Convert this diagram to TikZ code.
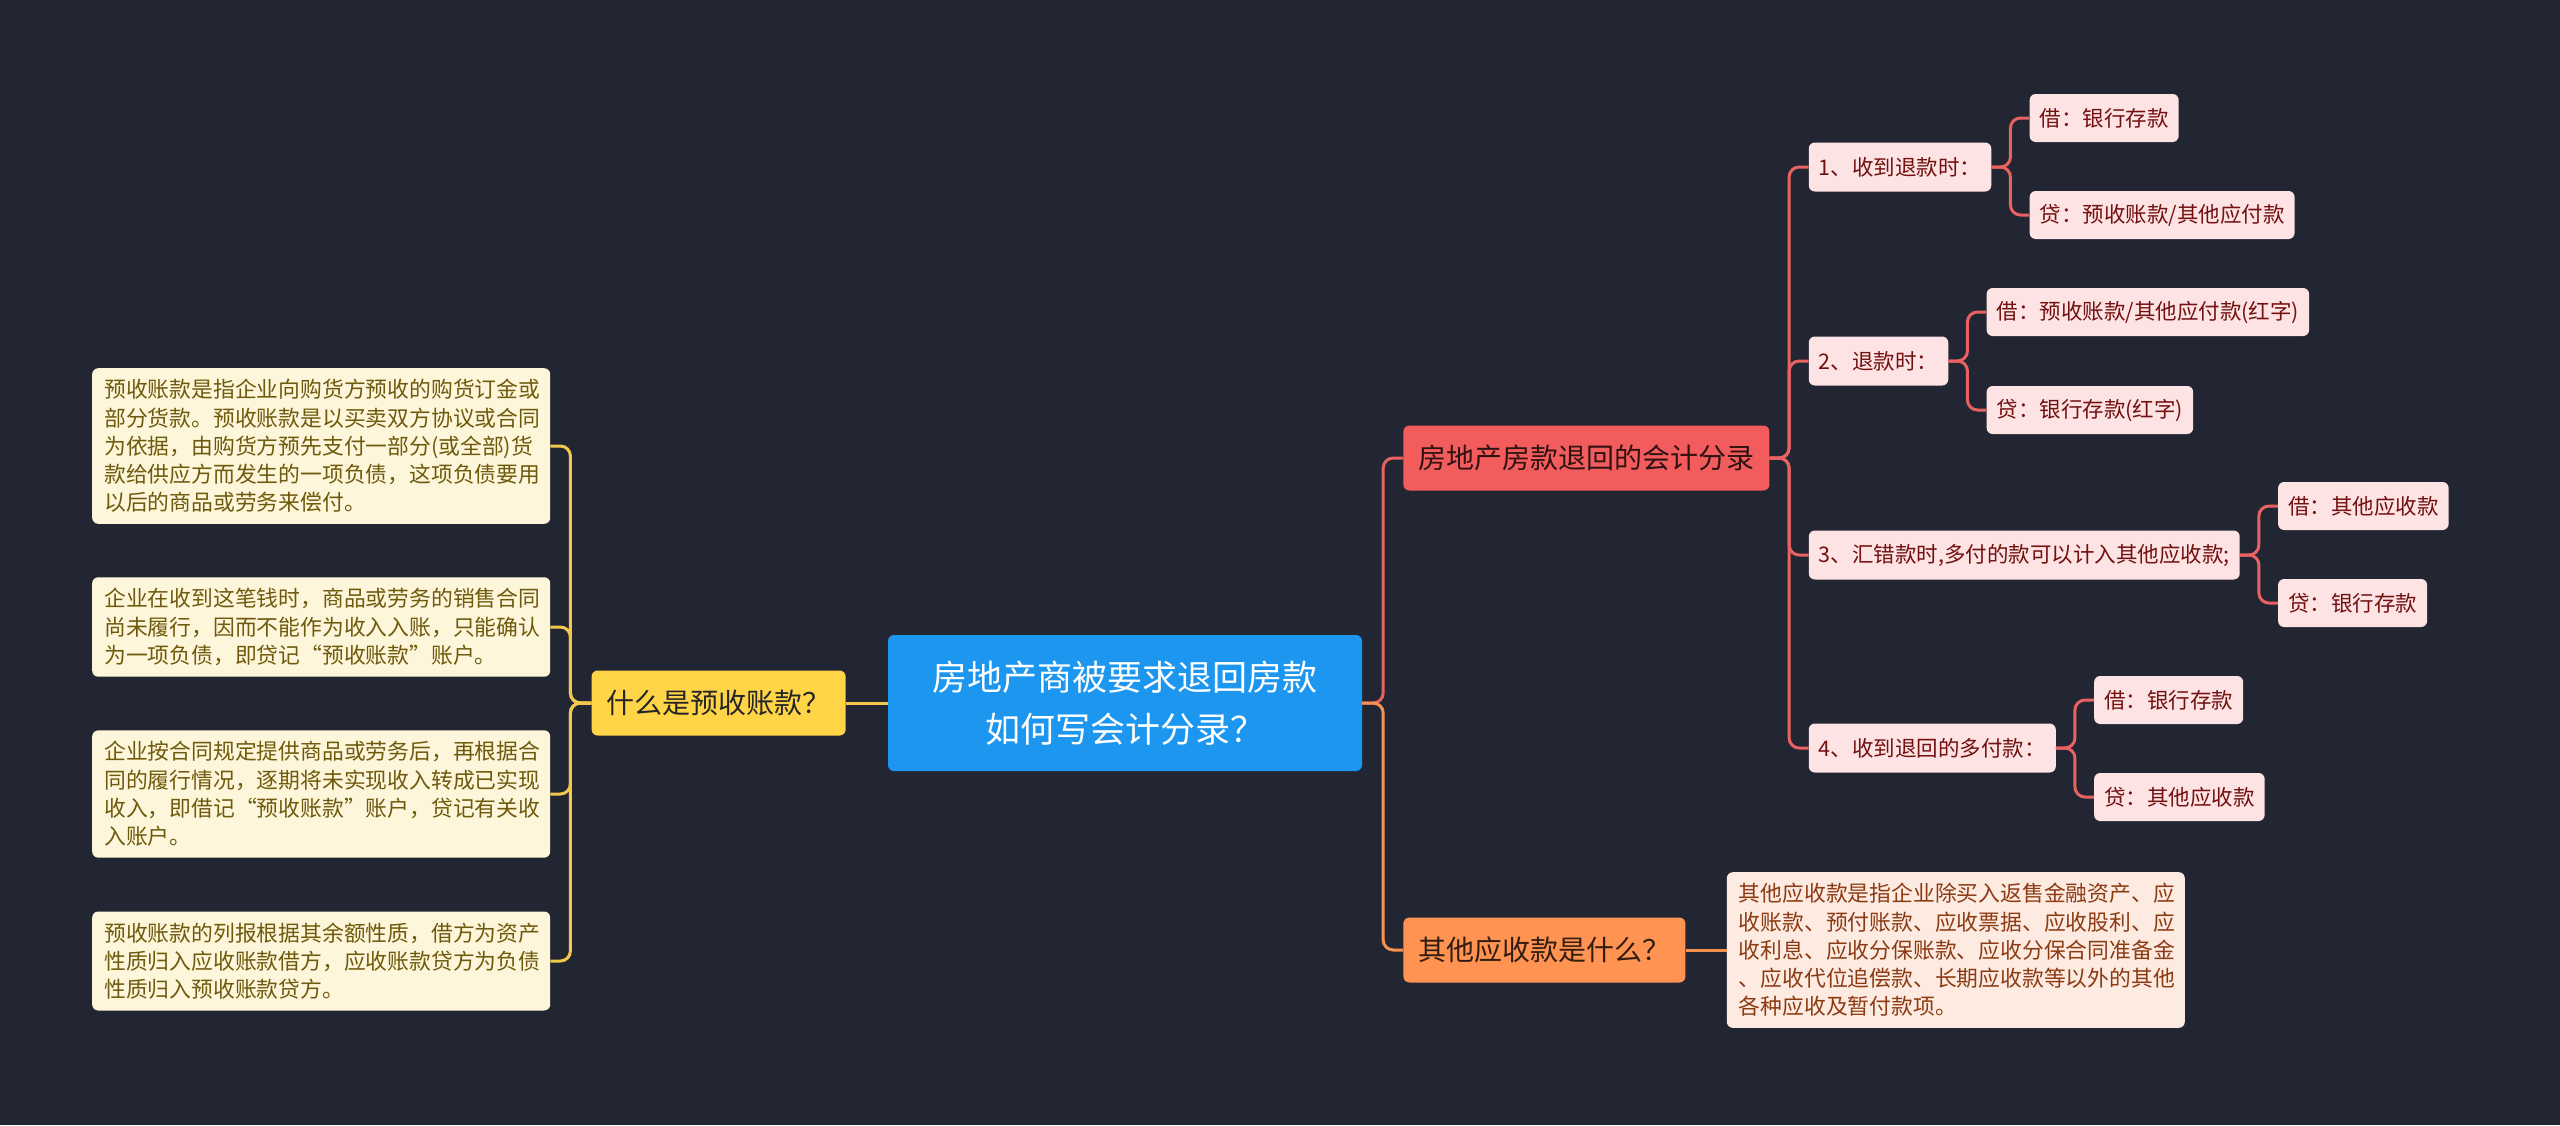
\documentclass[tikz,border=0pt]{standalone}
\usepackage{fontspec}
\setmainfont{Noto Sans CJK SC}
\usepackage{xcolor}
\usepackage{tikz}
\usetikzlibrary{positioning}

\definecolor{beijing}{HTML}{222633}
\definecolor{lan}{HTML}{1C96EF}
\definecolor{huang}{HTML}{FFD447}
\definecolor{hong}{HTML}{F25C5C}
\definecolor{cheng}{HTML}{FE9352}
\definecolor{fenhong}{HTML}{FDE3E3}
\definecolor{anhong}{HTML}{731010}
\definecolor{mihuang}{HTML}{FEF6DA}
\definecolor{zonghuang}{HTML}{6E5A0C}
\definecolor{qiancheng}{HTML}{FDEBE1}
\definecolor{zongcheng}{HTML}{8C3A12}
\definecolor{huangxian}{HTML}{F2C94C}
\definecolor{hongxian}{HTML}{E96262}
\definecolor{chengxian}{HTML}{F5924E}

\begin{document}
\begin{tikzpicture}[x=1pt, y=-1pt, >=stealth,
    kuang/.style={rounded corners=6pt, inner xsep=12pt, inner ysep=0pt},
    zhuti/.style={kuang, fill=lan, text=white, align=center, minimum width=474pt,
        minimum height=136pt, font=\fontsize{35pt}{52pt}\selectfont},
    zhixian/.style={kuang, minimum height=65pt, inner xsep=15pt,
        font=\fontsize{28pt}{34pt}\selectfont},
    wenben/.style={kuang, inner ysep=11pt, text width=434pt, align=left,
        font=\fontsize{21.8pt}{28.3pt}\selectfont},
    xiaokuang/.style={kuang, fill=fenhong, text=anhong, minimum height=48pt,
        inner xsep=10pt, font=\fontsize{21.5pt}{25pt}\selectfont},
    lianxian/.style={line width=3pt, rounded corners=10pt}]

    % 背景与画布大小
    \fill[beijing] (0,0) rectangle (2560,1125);
    \useasboundingbox (0,0) rectangle (2560,1125);

    % 中心主题
    \node[zhuti] (zhu) at (1125,703) {房地产商被要求退回房款\\如何写会计分录？};

    % 左侧分支：什么是预收账款
    \node[zhixian, fill=huang, text=black!85, left=42pt of zhu] (yushou) {什么是预收账款？};
    \node[wenben, fill=mihuang, text=zonghuang, left=41pt of yushou, yshift=257pt] (ys1)
        {预收账款是指企业向购货方预收的购货订金或\\部分货款。预收账款是以买卖双方协议或合同\\为依据，由购货方预先支付一部分(或全部)货\\款给供应方而发生的一项负债，这项负债要用\\以后的商品或劳务来偿付。};
    \node[wenben, fill=mihuang, text=zonghuang, left=41pt of yushou, yshift=76pt] (ys2)
        {企业在收到这笔钱时，商品或劳务的销售合同\\尚未履行，因而不能作为收入入账，只能确认\\为一项负债，即贷记“预收账款”账户。};
    \node[wenben, fill=mihuang, text=zonghuang, left=41pt of yushou, yshift=-91pt] (ys3)
        {企业按合同规定提供商品或劳务后，再根据合\\同的履行情况，逐期将未实现收入转成已实现\\收入，即借记“预收账款”账户，贷记有关收\\入账户。};
    \node[wenben, fill=mihuang, text=zonghuang, left=41pt of yushou, yshift=-258pt] (ys4)
        {预收账款的列报根据其余额性质，借方为资产\\性质归入应收账款借方，应收账款贷方为负债\\性质归入预收账款贷方。};

    % 右侧分支：会计分录
    \node[zhixian, fill=hong, text=black!80!hong, right=41pt of zhu, yshift=245pt] (fenlu) {房地产房款退回的会计分录};
    \node[xiaokuang, minimum height=49pt, right=39pt of fenlu, yshift=291pt] (b1) {1、收到退款时：};
    \node[xiaokuang, minimum height=49pt, right=39pt of fenlu, yshift=97pt] (b2) {2、退款时：};
    \node[xiaokuang, minimum height=49pt, right=39pt of fenlu, yshift=-97pt] (b3) {3、汇错款时,多付的款可以计入其他应收款;};
    \node[xiaokuang, minimum height=49pt, right=39pt of fenlu, yshift=-290pt] (b4) {4、收到退回的多付款：};

    % 借 / 贷
    \node[xiaokuang, right=38pt of b1, yshift=49pt] (j1) {借：银行存款};
    \node[xiaokuang, right=38pt of b1, yshift=-48pt] (d1) {贷：预收账款/其他应付款};
    \node[xiaokuang, right=38pt of b2, yshift=49pt] (j2) {借：预收账款/其他应付款(红字)};
    \node[xiaokuang, right=38pt of b2, yshift=-49pt] (d2) {贷：银行存款(红字)};
    \node[xiaokuang, right=38pt of b3, yshift=49pt] (j3) {借：其他应收款};
    \node[xiaokuang, right=38pt of b3, yshift=-48pt] (d3) {贷：银行存款};
    \node[xiaokuang, right=38pt of b4, yshift=48pt] (j4) {借：银行存款};
    \node[xiaokuang, right=38pt of b4, yshift=-49pt] (d4) {贷：其他应收款};

    % 右侧分支：其他应收款
    \node[zhixian, fill=cheng, text=black!80!cheng, right=41pt of zhu, yshift=-247pt] (qita) {其他应收款是什么？};
    \node[wenben, fill=qiancheng, text=zongcheng, right=41pt of qita] (qitashuo)
        {其他应收款是指企业除买入返售金融资产、应\\收账款、预付账款、应收票据、应收股利、应\\收利息、应收分保账款、应收分保合同准备金\\、应收代位追偿款、长期应收款等以外的其他\\各种应收及暂付款项。};

    % 连线
    \draw[lianxian, huangxian] (zhu.west) -- (yushou.east);
    \foreach \i in {1,...,4}
        \draw[lianxian, huangxian] (yushou.west) -- ++(-21pt,0) |- (ys\i.east);
    \draw[lianxian, hongxian] (zhu.east) -- ++(21pt,0) |- (fenlu.west);
    \draw[lianxian, chengxian] (zhu.east) -- ++(21pt,0) |- (qita.west);
    \draw[lianxian, chengxian] (qita.east) -- (qitashuo.west);
    \foreach \i in {1,...,4} {
        \draw[lianxian, hongxian] (fenlu.east) -- ++(19.5pt,0) |- (b\i.west);
        \draw[lianxian, hongxian] (b\i.east) -- ++(19pt,0) |- (j\i.west);
        \draw[lianxian, hongxian] (b\i.east) -- ++(19pt,0) |- (d\i.west);
    }
\end{tikzpicture}
\end{document}
